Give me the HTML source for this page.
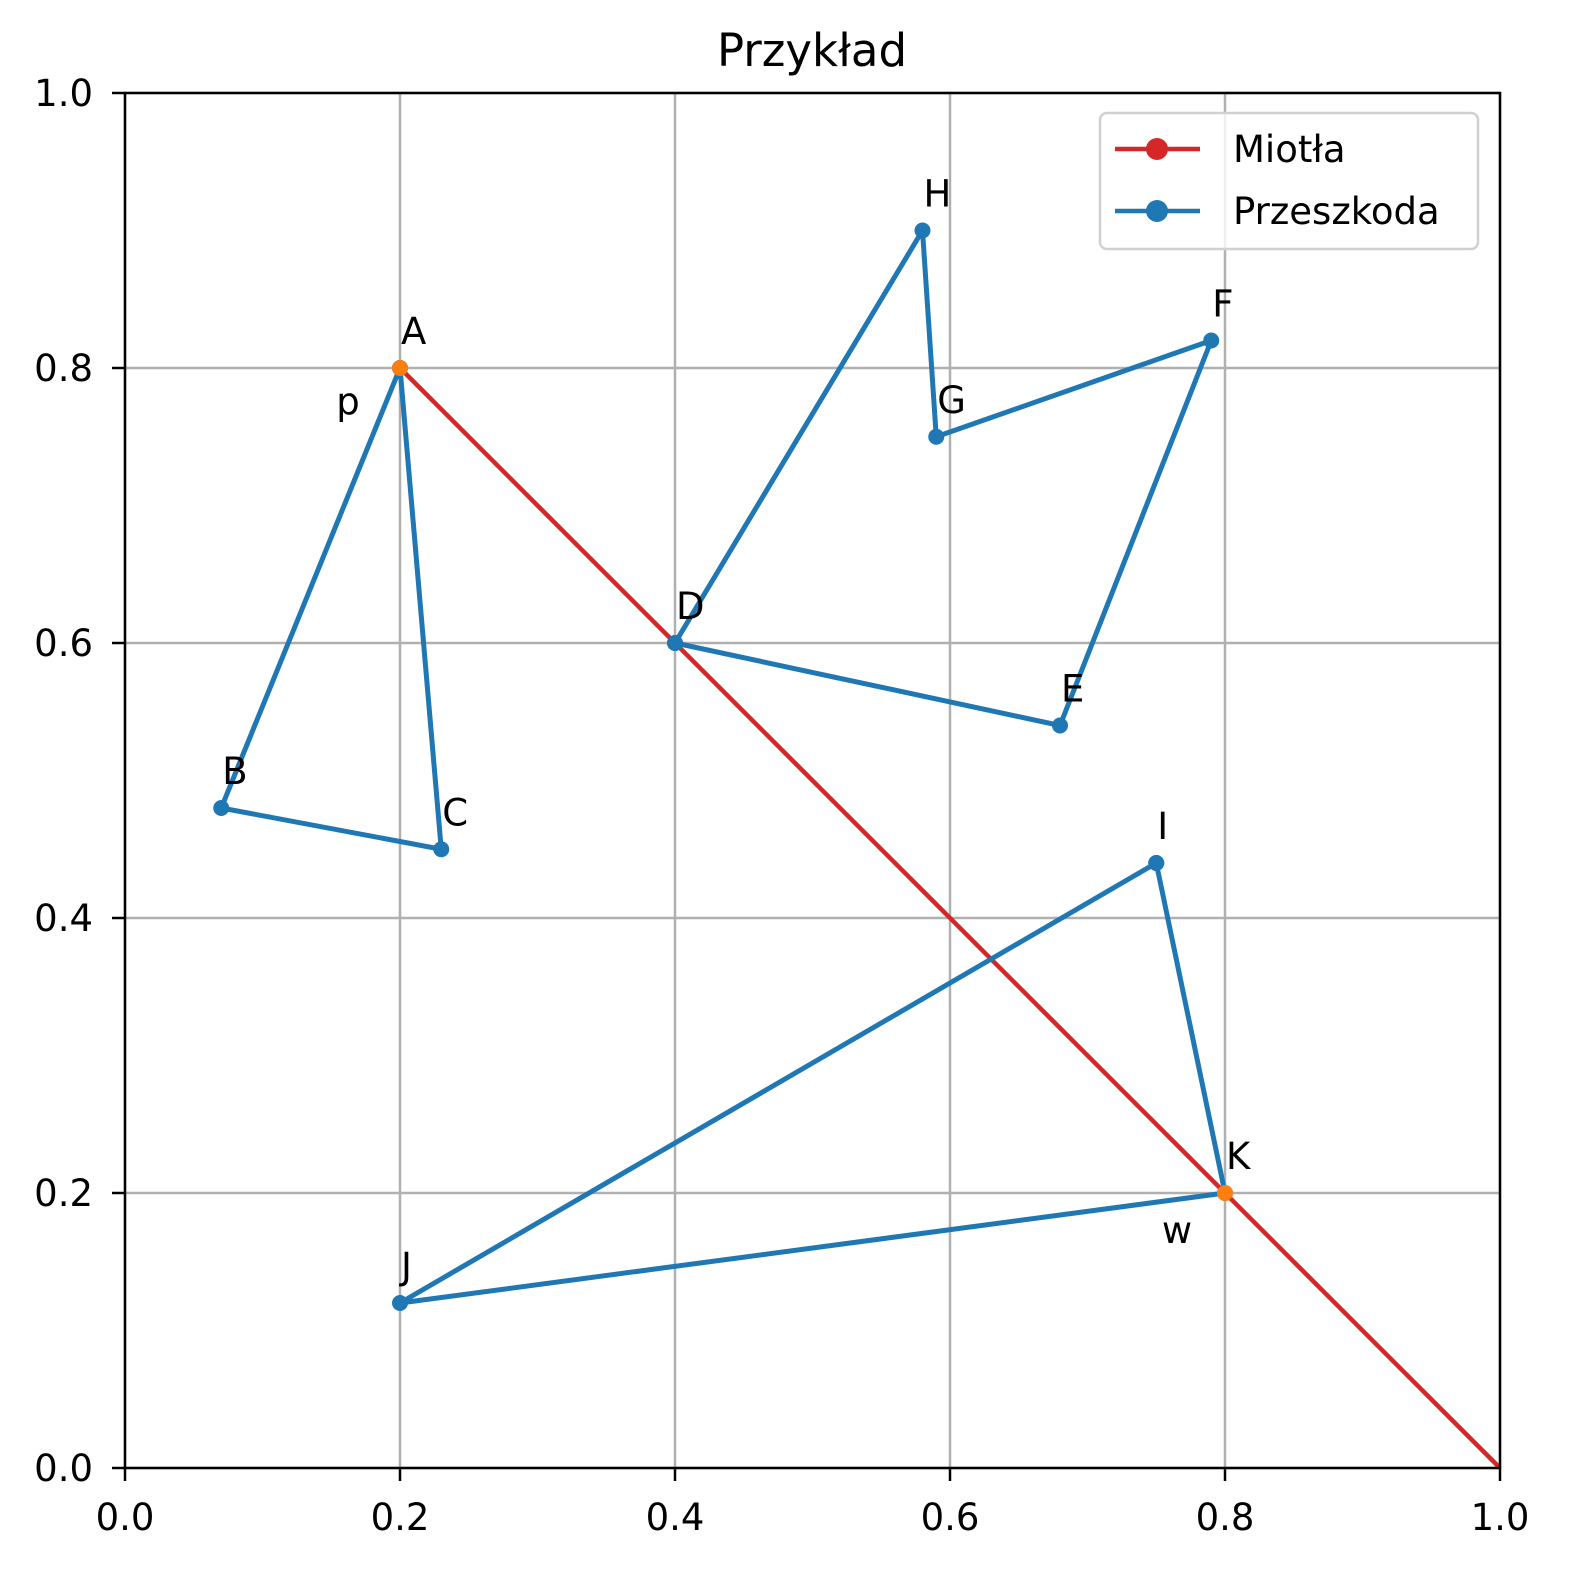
<!DOCTYPE html>
<html><head><meta charset="utf-8">
<style>
html,body{margin:0;padding:0;background:#fff;overflow:hidden;width:1574px;height:1580px;}
svg{display:block;font-family:"DejaVu Sans","Liberation Sans",sans-serif;}
</style></head>
<body>
<svg id="chart" width="1574" height="1580" viewBox="0 0 1574 1580" xmlns="http://www.w3.org/2000/svg"></svg>
<script>
const xTicks = [0.0, 0.2, 0.4, 0.6, 0.8, 1.0];
const yTicks = [0.0, 0.2, 0.4, 0.6, 0.8, 1.0];
const tickLabels = ["0.0","0.2","0.4","0.6","0.8","1.0"];
const pointNames = ["A","B","C","D","E","F","G","H","I","J","K"];
const pointX = [0.2, 0.07, 0.23, 0.4, 0.68, 0.79, 0.59, 0.58, 0.75, 0.2, 0.8];
const pointY = [0.8, 0.48, 0.45, 0.6, 0.54, 0.82, 0.75, 0.9, 0.44, 0.12, 0.2];
const obstacle1 = ["A","B","C","A"];
const obstacle2 = ["D","H","G","F","E","D"];
const obstacle3 = ["I","K","J","I"];
const broomX = [0.2, 1.0];
const broomY = [0.8, 0.0];
const endpoints = ["A","K"];

const L=125,R=1500,T=93,B=1468;
const sx=v=>L+v*(R-L), sy=v=>B-v*(B-T);
const svg=document.getElementById('chart');
const NS='http://www.w3.org/2000/svg';
function mk(tag,attrs,parent){const e=document.createElementNS(NS,tag);for(const k in attrs)e.setAttribute(k,attrs[k]);(parent||svg).appendChild(e);return e;}
function P(n){const i=pointNames.indexOf(n);return [sx(pointX[i]),sy(pointY[i])];}

xTicks.forEach((t,i)=>{
  const g=mk('line',{x1:sx(t),x2:sx(t),y1:T,y2:B,stroke:'#b0b0b0','stroke-width':2.5});
  
  
  const tk=mk('line',{x1:sx(t),x2:sx(t),y1:B,y2:B+13,stroke:'#000','stroke-width':2.5});
  
  
  const tx=mk('text',{x:sx(t),y:B+62,'font-size':37,'text-anchor':'middle',fill:'#000'});
  tx.textContent=tickLabels[i];
  
  
});
yTicks.forEach((t,i)=>{
  const g=mk('line',{x1:L,x2:R,y1:sy(t),y2:sy(t),stroke:'#b0b0b0','stroke-width':2.5});
  
  
  const tk=mk('line',{x1:L-13,x2:L,y1:sy(t),y2:sy(t),stroke:'#000','stroke-width':2.5});
  
  
  const tx=mk('text',{x:L-32,y:sy(t)+13,'font-size':37,'text-anchor':'end',fill:'#000'});
  tx.textContent=tickLabels[i];
  
  
});

const br=mk('polyline',{points:broomX.map((x,i)=>sx(x)+','+sy(broomY[i])).join(' '),fill:'none',stroke:'#d62728','stroke-width':4.5});



[obstacle1,obstacle2,obstacle3].forEach((ob,k)=>{
  const pl=mk('polyline',{points:ob.map(n=>P(n).join(',')).join(' '),fill:'none',stroke:'#1f77b4','stroke-width':5,'stroke-linejoin':'round'});
  
  
  ob.forEach(n=>{
    const [x,y]=P(n);
    const c=mk('circle',{cx:x,cy:y,r:8,fill:'#1f77b4'});
    
    
  });
});
endpoints.forEach(n=>{
  const [x,y]=P(n);
  const c=mk('circle',{cx:x,cy:y,r:8,fill:'#ff7f0e'});
  
  
});

pointNames.forEach(n=>{
  const [x,y]=P(n);
  const t=mk('text',{x:x+1,y:y-24,'font-size':37,fill:'#000'});
  t.textContent=n;
  
  
});
(function(){
  const [ax,ay]=P("A"), [kx,ky]=P("K");
  const p=mk('text',{x:ax-52,y:ay+46,'font-size':37,'text-anchor':'middle',fill:'#000'});p.textContent='p';
  
  
  const w=mk('text',{x:kx-48,y:ky+50,'font-size':37,'text-anchor':'middle',fill:'#000'});w.textContent='w';
  
  
})();

const fr=mk('rect',{x:L,y:T,width:R-L,height:B-T,fill:'none',stroke:'#000','stroke-width':2.5});



const ti=mk('text',{x:812,y:66,'font-size':45,'text-anchor':'middle',fill:'#000'});
ti.textContent='Przykład';



const lg=mk('g',{});


mk('rect',{x:1100,y:113,width:378,height:136,rx:7,fill:'#fff','fill-opacity':0.8,stroke:'#d0d0d0','stroke-width':2.5},lg);
[['Miotła','#d62728',149],['Przeszkoda','#1f77b4',211]].forEach(([lab,col,y])=>{
  const e=mk('g',{},lg);
  
  
  mk('line',{x1:1115,x2:1200,y1:y,y2:y,stroke:col,'stroke-width':4.5},e);
  mk('circle',{cx:1157,cy:y,r:11,fill:col},e);
  const t=mk('text',{x:1233,y:y+13,'font-size':37,fill:'#000'},e);
  t.textContent=lab;
});
</script>
</body></html>
